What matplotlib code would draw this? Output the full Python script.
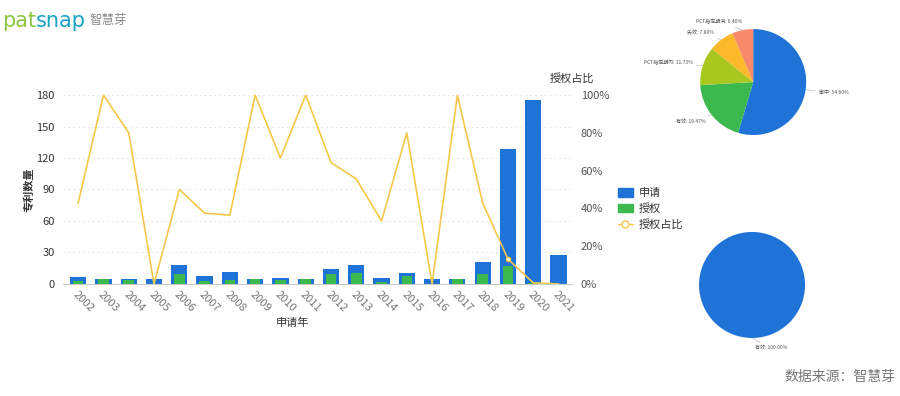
import math
import matplotlib.pyplot as plt
from matplotlib.lines import Line2D
from matplotlib.patches import Patch
from matplotlib.ticker import PercentFormatter

plt.rcParams['font.family'] = ['Noto Sans CJK SC', 'DejaVu Sans']

# 数据
years = [str(y) for y in range(2002, 2022)]
applications = [7, 5, 5, 5, 18, 8, 11, 5, 6, 5, 14, 18, 6, 10, 5, 5, 21, 129, 175, 28]
grants = [3, 5, 4, 0, 9, 3, 4, 5, 4, 5, 9, 10, 2, 8, 0, 5, 9, 17, 1, 0]
grant_ratio = [g / a for g, a in zip(grants, applications)]

status_labels = ['审中', '有效', 'PCT指定期内', '失效', 'PCT指定期满']
status_values = [54.60, 19.47, 11.73, 7.80, 6.40]
status_colors = ['#1f73d6', '#3cb94e', '#a8c81f', '#fbb829', '#f88a6c']

grant_status_labels = ['有效']
grant_status_values = [100.0]

BLUE = '#1f73d6'
GREEN = '#3cb94e'
YELLOW = '#f5c84a'

fig = plt.figure(figsize=(9, 3.96), dpi=100)

# logo
t1 = fig.text(0.002, 0.948, 'pat', color='#8cc63e', fontsize=15,
              family='DejaVu Sans', va='center')
fig.add_artist(plt.Annotation('snap', xy=(1, 0.5), xycoords=t1, color='#1ba3c6',
                              fontsize=15, family='DejaVu Sans', va='center',
                              ha='left'))
fig.text(0.1, 0.948, '智慧芽', color='#888888', fontsize=9, va='center')

# 主图：申请/授权柱 + 授权占比折线
ax = fig.add_axes([0.07, 0.283, 0.566, 0.477])
x = list(range(len(years)))
ax.bar(x, applications, width=0.64, color=BLUE, zorder=2)
ax.bar(x, grants, width=0.42, color=GREEN, zorder=3)
ax.set_xlim(-0.6, 19.55)
ax.set_ylim(0, 180)
ax.set_yticks(range(0, 181, 30))
ax.set_xticks(x)
ax.set_xticklabels(years, rotation=-45, ha='left', va='top', fontsize=8,
                   color='#777777', rotation_mode='anchor')
ax.tick_params(axis='y', labelsize=8, colors='#333333', length=0, pad=6)
ax.tick_params(axis='x', length=0, pad=4)
ax.grid(axis='y', color='#e6e6e6', linestyle=(0, (2, 3)), linewidth=0.7, zorder=0)
for s in ['top', 'right', 'left']:
    ax.spines[s].set_visible(False)
ax.spines['bottom'].set_color('#cccccc')
ax.set_ylabel('专利数量', fontsize=8, color='#333333', fontweight='bold')
ax.yaxis.set_label_coords(-0.055, 0.5)
ax.set_xlabel('申请年', fontsize=8, color='#333333', labelpad=0)
ax.xaxis.set_label_coords(0.45, -0.18)

ax2 = ax.twinx()
ax2.plot(x, grant_ratio, color=YELLOW, linewidth=1.2, zorder=4,
         marker='o', markersize=3, markerfacecolor='white',
         markeredgecolor=YELLOW, markevery=[17])
ax2.set_ylim(0, 1)
ax2.set_yticks([0, 0.2, 0.4, 0.6, 0.8, 1.0])
ax2.yaxis.set_major_formatter(PercentFormatter(1.0, decimals=0))
ax2.tick_params(axis='y', labelsize=8, colors='#555555', length=0, pad=6)
for s in ['top', 'right', 'left', 'bottom']:
    ax2.spines[s].set_visible(False)
ax2.text(1.0, 1.06, '授权占比', transform=ax2.transAxes, fontsize=8,
         color='#333333', ha='center', va='bottom')

handles = [Patch(facecolor=BLUE, edgecolor=BLUE),
           Patch(facecolor=GREEN, edgecolor=GREEN),
           Line2D([0], [0], color=YELLOW, linewidth=1, marker='o', markersize=5,
                  markerfacecolor='white', markeredgecolor=YELLOW)]
fig.legend(handles, ['申请', '授权', '授权占比'], loc='upper left',
           bbox_to_anchor=(0.675, 0.55), frameon=False, fontsize=8,
           handlelength=1.4, handleheight=0.8, labelspacing=0.45,
           handletextpad=0.5, labelcolor='#333333')

# 饼图：法律状态
pax = fig.add_axes([0.778, 0.659, 0.1178, 0.2677])
wedges, _ = pax.pie(status_values, colors=status_colors, startangle=90,
                    counterclock=False, radius=1)
pax.set_xlim(-1, 1)
pax.set_ylim(-1, 1)
label_pos = [(1.25, -0.2, 'left'), (-0.9, -0.75, 'right'), (-1.15, 0.36, 'right'),
             (-0.75, 0.93, 'right'), (-0.2, 1.14, 'right')]
for w, lab, val, (tx, ty, ha) in zip(wedges, status_labels, status_values, label_pos):
    ang = math.radians((w.theta1 + w.theta2) / 2)
    px, py = math.cos(ang), math.sin(ang)
    pax.annotate(f'{lab}: {val:.2f}%', xy=(px, py), xytext=(tx, ty),
                 fontsize=3.6, color='#555555', ha=ha, va='center',
                 annotation_clip=False,
                 arrowprops=dict(arrowstyle='-', color='#aaaaaa', lw=0.4,
                                 shrinkA=1, shrinkB=0))

# 饼图：授权专利法律状态
pax2 = fig.add_axes([0.7767, 0.1465, 0.1178, 0.2677])
pax2.pie(grant_status_values, colors=[BLUE], startangle=90, counterclock=False)
pax2.set_xlim(-1, 1)
pax2.set_ylim(-1, 1)
pax2.annotate(f'{grant_status_labels[0]}: {grant_status_values[0]:.2f}%',
              xy=(0, -1), xytext=(0.05, -1.2), fontsize=3.6, color='#555555',
              ha='left', va='center', annotation_clip=False,
              arrowprops=dict(arrowstyle='-', color='#aaaaaa', lw=0.4,
                              shrinkA=1, shrinkB=0))

fig.text(0.995, 0.03, '数据来源：智慧芽', fontsize=10, color='#777777',
         ha='right', va='bottom')

fig.savefig('out.png', dpi=100)
